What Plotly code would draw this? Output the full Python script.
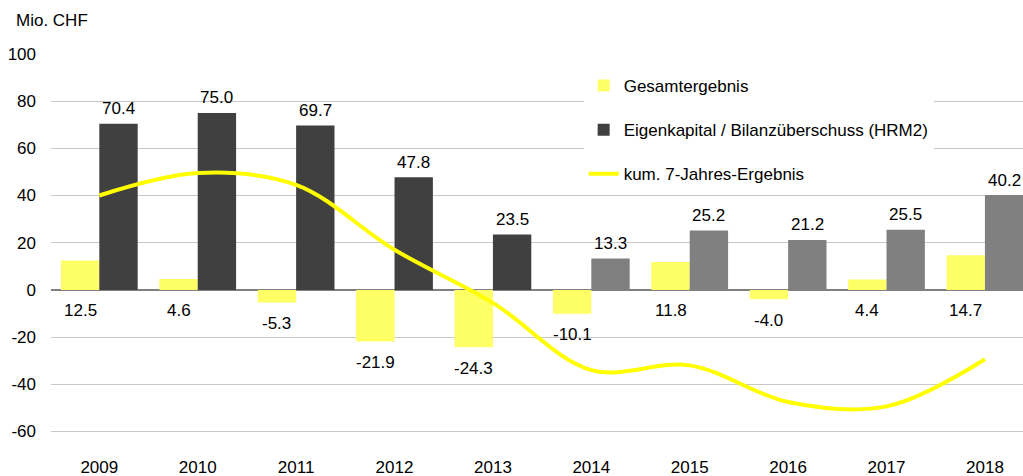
import plotly.graph_objects as go

years = ["2009", "2010", "2011", "2012", "2013", "2014", "2015", "2016", "2017", "2018"]
gesamtergebnis = [12.5, 4.6, -5.3, -21.9, -24.3, -10.1, 11.8, -4.0, 4.4, 14.7]
eigenkapital = [70.4, 75.0, 69.7, 47.8, 23.5, 13.3, 25.2, 21.2, 25.5, 40.2]
kum7 = [40.0, 49.5, 44.5, 17.0, -5.5, -34.0, -32.0, -47.5, -49.4, -29.4]
ek_colors = ["#404040"] * 5 + ["#808080"] * 5
ytick_vals = [-60, -40, -20, 0, 20, 40, 60, 80, 100]
ytick_text = ["-60", "-40", "-20", "0", "20", "40", "60", "80", "100"]

FONT = "Liberation Sans, Arial, sans-serif"
BAR_W = 0.39
xs = list(range(len(years)))

fig = go.Figure()
fig.add_trace(go.Bar(
    x=xs, y=gesamtergebnis, width=BAR_W, offset=-BAR_W,
    marker=dict(color="#FFFF66", line=dict(width=0)),
    name="Gesamtergebnis", legendgroup="g1",
))
fig.add_trace(go.Bar(
    x=xs, y=eigenkapital, width=BAR_W, offset=0,
    marker=dict(color=ek_colors, line=dict(width=0)),
    name="Eigenkapital / Bilanzüberschuss (HRM2)", legendgroup="g2",
))
fig.add_trace(go.Scatter(
    x=xs, y=kum7, mode="lines",
    line=dict(color="#FFFF00", width=4, shape="spline", smoothing=1.0),
    name="kum. 7-Jahres-Ergebnis", legendgroup="g3",
))

annotations = []
for i, v in enumerate(gesamtergebnis):
    annotations.append(dict(
        x=i - BAR_W / 2, y=min(v, 0), xref="x", yref="y",
        text=f"{v:.1f}", showarrow=False, yanchor="middle", yshift=-21,
        font=dict(family=FONT, size=17, color="#000000"),
    ))
for i, v in enumerate(eigenkapital):
    annotations.append(dict(
        x=i + BAR_W / 2, y=v, xref="x", yref="y",
        text=f"{v:.1f}", showarrow=False, yanchor="middle", yshift=15,
        font=dict(family=FONT, size=17, color="#000000"),
    ))
annotations.append(dict(
    x=0, y=1, xref="paper", yref="paper", xanchor="left", yanchor="middle",
    xshift=-37, yshift=34, text="Mio. CHF", showarrow=False,
    font=dict(family=FONT, size=17, color="#000000"),
))

fig.update_layout(
    width=1023, height=476,
    margin=dict(l=51, r=0, t=54, b=21),
    paper_bgcolor="white", plot_bgcolor="white",
    font=dict(family=FONT, size=17, color="#000000"),
    barmode="overlay",
    showlegend=True,
    legend=dict(
        x=0.548, y=0.965, xanchor="left", yanchor="top",
        bgcolor="white", borderwidth=0,
        tracegroupgap=19, itemwidth=30,
        font=dict(family=FONT, size=17, color="#000000"),
    ),
    xaxis=dict(
        range=[-0.491, 9.387], tickvals=xs, ticktext=years,
        showgrid=False, zeroline=False, showline=False, ticks="",
        tickfont=dict(family=FONT, size=17),
    ),
    yaxis=dict(
        range=[-70, 100], tickvals=ytick_vals, ticktext=ytick_text,
        showgrid=True, gridcolor="#C8C8C8", gridwidth=1,
        zeroline=True, zerolinecolor="#808080", zerolinewidth=2,
        showline=False, ticks="", ticklabelstandoff=14,
        tickfont=dict(family=FONT, size=17),
    ),
    annotations=annotations,
)

fig.write_html("out.html")
